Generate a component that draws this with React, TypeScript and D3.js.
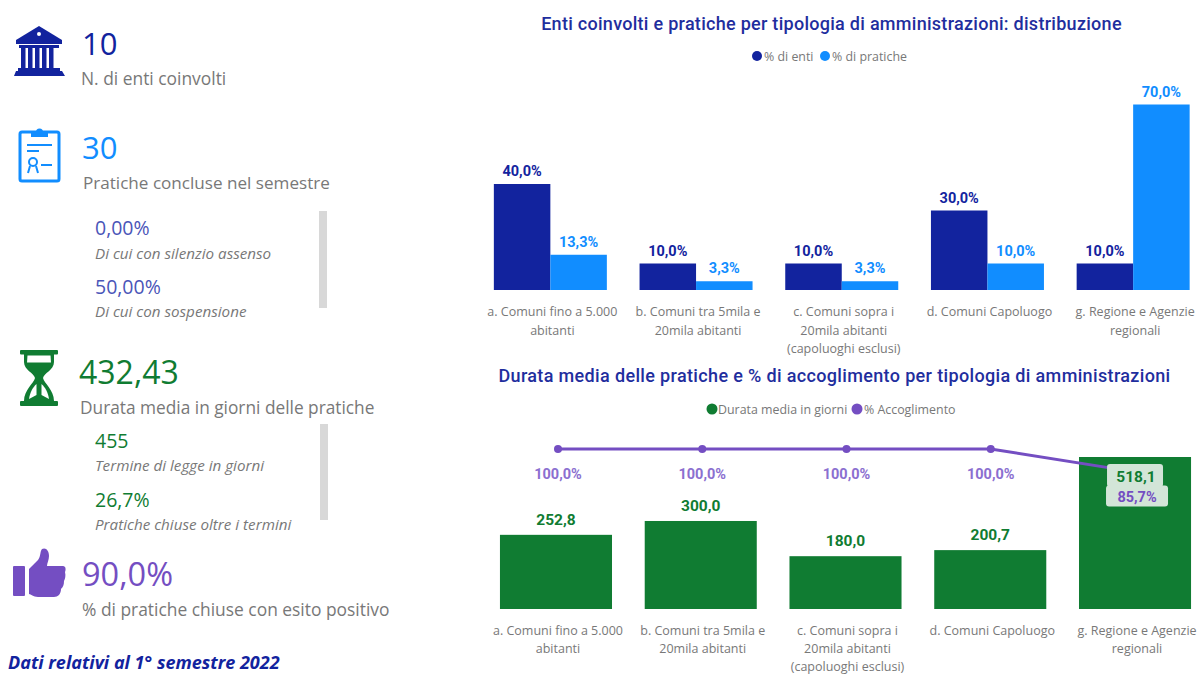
import React from "react";
import * as d3 from "d3";

const categories = [
  ["a. Comuni fino a 5.000", "abitanti"],
  ["b. Comuni tra 5mila e", "20mila abitanti"],
  ["c. Comuni sopra i", "20mila abitanti", "(capoluoghi esclusi)"],
  ["d. Comuni Capoluogo"],
  ["g. Regione e Agenzie", "regionali"],
];
const catKeys = ["a", "b", "c", "d", "g"];
const pctEnti = [40, 10, 10, 30, 10];
const pctPratiche = [13.3, 3.3, 3.3, 10, 70];
const durata = [252.8, 300, 180, 200.7, 518.1];
const accoglimento = [100, 100, 100, 100, 85.7];

const NAVY = "#12239e";
const BLUE = "#118dff";
const GREEN = "#107c32";
const PURPLE = "#744ec2";
const GRAY = "#787878";
const TITLE = "#1f2e9e";
const SANS = "'Open Sans', sans-serif";
const COND = "'Roboto', sans-serif";

const fmt = (v: number) => v.toFixed(1).replace(".", ",");

function Kpi({ x, y, size, color, text }: any) {
  return <text x={x} y={y} fontSize={size} fill={color} fontFamily={SANS}>{text}</text>;
}
function Lab({ x, y, size = 17.2, italic = false, text }: any) {
  return <text x={x} y={y} fontSize={size} fill={GRAY} fontStyle={italic ? "italic" : "normal"} fontFamily={SANS}>{text}</text>;
}

function Bank() {
  return (
    <g fill={NAVY}>
      <path d="M39 26 L62 40 L62 44 L16 44 L16 40 Z" />
      <rect x="19" y="45" width="40" height="3" />
      {[20.5, 27.5, 34.5, 41.5, 48.5].map((x) => <rect key={x} x={x + 0.5} y="48" width="4.5" height="20" />)}
      <rect x="18" y="68" width="42" height="3" />
      <path d="M16 71 H62 L65 76 H14 Z" />
      <circle cx="39" cy="34" r="2" fill="#fff" />
    </g>
  );
}
function Clip() {
  return (
    <g>
      <rect x="20" y="132" width="39" height="49" rx="2" fill="none" stroke={BLUE} strokeWidth="3" />
      <path d="M31 132 h5 a3.5 3.5 0 0 1 7 0 h5 v5 h-17 z" fill={BLUE} />
      <rect x="27" y="144" width="25" height="2" fill={BLUE} />
      <rect x="27" y="150" width="12" height="2" fill={BLUE} />
      <circle cx="33" cy="162" r="4" fill="none" stroke={BLUE} strokeWidth="2" />
      <path d="M30 166 l-2 7 M36 166 l2 7" stroke={BLUE} strokeWidth="2" />
      <rect x="41" y="164" width="11" height="2" fill={BLUE} />
    </g>
  );
}
function Glass() {
  return (
    <g>
      <rect x="20" y="350" width="38" height="4.5" rx="1" fill={GREEN} />
      <rect x="20" y="401" width="38" height="5" rx="1" fill={GREEN} />
      <path fill={GREEN} d="M24 354 H54 V362 C54 370 44 373 43 378 C44 383 54 390 54 401 H24 C24 390 34 383 35 378 C34 373 24 370 24 362 Z" />
      <path fill="#fff" d="M27.5 355.5 H50.5 L51 362.5 H27 Z" />
      <path fill="#fff" d="M36.5 384 L36.5 395 L29 399 C30 392 33 387 36.5 384 Z" />
      <path fill="#fff" d="M41.5 384 L41.5 395 L49 399 C48 392 45 387 41.5 384 Z" />
    </g>
  );
}
function Thumb() {
  return (
    <g fill={PURPLE}>
      <rect x="13" y="566" width="12" height="30" rx="1" />
      <path d="M29 569 L38 560 C41 556 40 551 42 549 C46 547 49 551 49 556 C49 560 47 563 47 566 L63 566 C66 566 66 570 65 572 C66 576 65 579 64 581 C64 585 63 587 61 589 C61 594 58 597 54 597 L38 597 C33 597 31 594 29 594 Z" />
    </g>
  );
}

export default function App() {
  const x1 = d3.scaleBand<string>().domain(catKeys).range([477.5, 1206]).paddingInner(0.225).paddingOuter(0.1125);
  const y1 = d3.scaleLinear().domain([0, 70]).range([290, 104.5]);
  const x2 = d3.scaleBand<string>().domain(catKeys).range([483.6, 1207.4]).paddingInner(0.226).paddingOuter(0.113);
  const y2 = d3.scaleLinear().domain([0, 518.1]).range([609, 457]);
  const xLine = d3.scalePoint<string>().domain(catKeys).range([558, 1135]);
  const yLine = d3.scaleLinear().domain([0, 100]).range([609, 449]);
  const lineGen = d3.line<number>()
    .x((_, i) => xLine(catKeys[i]) as number)
    .y((d) => yLine(d));
  const w1 = 56.5;

  return (
    <svg width={1200} height={675} style={{ position: "absolute", left: 0, top: 0, background: "#fff" }}>
      <Bank />
      <Kpi x={82} y={55} size={31} color={NAVY} text="10" />
      <Lab x={81} y={85} size={17.4} text="N. di enti coinvolti" />
      <Clip />
      <Kpi x={82} y={159} size={31} color={BLUE} text="30" />
      <Lab x={83} y={189} size={17.1} text="Pratiche concluse nel semestre" />
      <Kpi x={95} y={235} size={19.5} color="#4a55b8" text="0,00%" />
      <Lab x={95} y={259} size={15.2} italic text="Di cui con silenzio assenso" />
      <Kpi x={95} y={294} size={19.5} color="#4a55b8" text="50,00%" />
      <Lab x={95} y={317} size={15.2} italic text="Di cui con sospensione" />
      <rect x={319} y={211} width={8} height={97} fill="#d8d8d8" />

      <Glass />
      <Kpi x={79} y={384} size={32} color={GREEN} text="432,43" />
      <Lab x={80} y={414} size={17.3} text="Durata media in giorni delle pratiche" />
      <Kpi x={95} y={448} size={19.5} color={GREEN} text="455" />
      <Lab x={95} y={471} size={15.2} italic text="Termine di legge in giorni" />
      <Kpi x={95} y={507} size={19.5} color={GREEN} text="26,7%" />
      <Lab x={95} y={530} size={15.2} italic text="Pratiche chiuse oltre i termini" />
      <rect x={320} y={424} width={8} height={96} fill="#d8d8d8" />

      <Thumb />
      <Kpi x={82} y={586} size={32.5} color={PURPLE} text="90,0%" />
      <Lab x={82} y={616} size={17.4} text="% di pratiche chiuse con esito positivo" />
      <text x={8} y={669} fontSize={18} fontWeight={700} fontStyle="italic" fill={NAVY} fontFamily={SANS}>Dati relativi al 1° semestre 2022</text>

      {/* Chart 1 */}
      <text x={831.5} y={30} textAnchor="middle" fontSize={18} fontWeight={500} fill={TITLE} fontFamily={COND} letterSpacing={0.28}>Enti coinvolti e pratiche per tipologia di amministrazioni: distribuzione</text>
      <circle cx={757} cy={56} r={5} fill={NAVY} />
      <text x={764} y={61} fontSize={12.4} fill={GRAY} fontFamily={SANS}>% di enti</text>
      <circle cx={825} cy={56} r={5} fill={BLUE} />
      <text x={832} y={61} fontSize={12.4} fill={GRAY} fontFamily={SANS}>% di pratiche</text>
      {catKeys.map((k, i) => {
        const gx = (x1(k) as number) + x1.bandwidth() / 2;
        return (
          <g key={k}>
            <rect x={gx - w1} y={y1(pctEnti[i])} width={w1} height={y1(0) - y1(pctEnti[i])} fill={NAVY} />
            <rect x={gx} y={y1(pctPratiche[i])} width={w1} height={y1(0) - y1(pctPratiche[i])} fill={BLUE} />
            <text x={gx - w1 / 2} y={y1(pctEnti[i]) - 8} textAnchor="middle" fontSize={14.5} fontWeight={700} fill={NAVY} fontFamily={COND}>{fmt(pctEnti[i])}%</text>
            <text x={gx + w1 / 2} y={y1(pctPratiche[i]) - 8} textAnchor="middle" fontSize={14.5} fontWeight={700} fill={BLUE} fontFamily={COND}>{fmt(pctPratiche[i])}%</text>
            {categories[i].map((l, j) => (
              <text key={j} x={gx + 2} y={316 + j * 18.5} textAnchor="middle" fontSize={12.5} fill={GRAY} fontFamily={SANS}>{l}</text>
            ))}
          </g>
        );
      })}

      {/* Chart 2 */}
      <text x={834.5} y={382} textAnchor="middle" fontSize={18} fontWeight={500} fill={TITLE} fontFamily={COND} letterSpacing={0.35}>Durata media delle pratiche e % di accoglimento per tipologia di amministrazioni</text>
      <circle cx={712} cy={409} r={5.5} fill={GREEN} />
      <text x={718} y={414} fontSize={12.4} fill={GRAY} fontFamily={SANS}>Durata media in giorni</text>
      <circle cx={857} cy={409} r={5.5} fill={PURPLE} />
      <text x={864} y={414} fontSize={12.4} fill={GRAY} fontFamily={SANS}>% Accoglimento</text>
      {catKeys.map((k, i) => {
        const bx = x2(k) as number;
        const cx = bx + x2.bandwidth() / 2;
        return (
          <g key={k}>
            <rect x={bx} y={y2(durata[i])} width={x2.bandwidth()} height={y2(0) - y2(durata[i])} fill={GREEN} />
            {categories[i].map((l, j) => (
              <text key={j} x={cx + 2} y={634.5 + j * 18} textAnchor="middle" fontSize={12.5} fill={GRAY} fontFamily={SANS}>{l}</text>
            ))}
          </g>
        );
      })}
      <path d={lineGen(accoglimento) as string} fill="none" stroke={PURPLE} strokeWidth={3} />
      {accoglimento.map((v, i) => i < 4 ? (
        <circle key={i} cx={xLine(catKeys[i]) as number} cy={yLine(v)} r={4} fill={PURPLE} />
      ) : null)}
      {catKeys.map((k, i) => {
        const cx = (x2(k) as number) + x2.bandwidth() / 2;
        const lx = xLine(k) as number;
        if (i === 4) {
          return (
            <g key={k}>
              <rect x={cx - 28} y={464} width={56} height={23} rx={3} fill="#d3e5d8" />
              <rect x={cx - 29} y={485.5} width={62} height={21} rx={3} fill="#d3e5d8" />
              <text x={cx + 1} y={482} textAnchor="middle" fontSize={15.5} fontWeight={700} fill={GREEN} fontFamily={COND}>{fmt(durata[i])}</text>
              <text x={cx + 2} y={502} textAnchor="middle" fontSize={14.5} fontWeight={700} fill={PURPLE} fontFamily={COND}>{fmt(accoglimento[i])}%</text>
            </g>
          );
        }
        return (
          <g key={k}>
            <text x={lx} y={479} textAnchor="middle" fontSize={14.5} fontWeight={700} fill="#8b6fd0" fontFamily={COND}>{fmt(accoglimento[i])}%</text>
            <text x={cx} y={y2(durata[i]) - 10} textAnchor="middle" fontSize={15.5} fontWeight={700} fill={GREEN} fontFamily={COND}>{fmt(durata[i])}</text>
          </g>
        );
      })}
    </svg>
  );
}
